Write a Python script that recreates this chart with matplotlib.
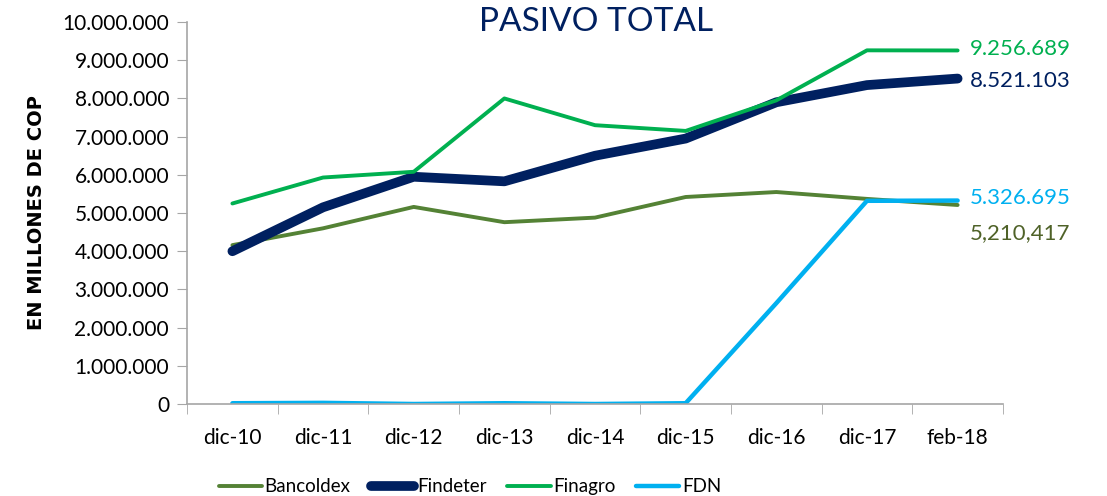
import numpy as np
import matplotlib
matplotlib.use("Agg")
import matplotlib.pyplot as plt
from matplotlib.ticker import FuncFormatter, FixedLocator

plt.rcParams["font.family"] = ["Lato", "DejaVu Sans"]

categories = ["dic-10", "dic-11", "dic-12", "dic-13", "dic-14",
              "dic-15", "dic-16", "dic-17", "feb-18"]
bancoldex = [4160000, 4600000, 5160000, 4760000, 4880000,
             5420000, 5550000, 5370000, 5210417]
findeter = [4000000, 5150000, 5950000, 5830000, 6500000,
            6950000, 7900000, 8350000, 8521103]
finagro = [5250000, 5930000, 6080000, 8000000, 7300000,
           7150000, 7950000, 9260000, 9256689]
fdn = [20000, 30000, 0, 20000, 0, 20000, 2640000, 5320000, 5326695]

end_labels = ["5,210,417", "8.521.103", "9.256.689", "5.326.695"]

c_banc = "#548235"
c_find = "#002060"
c_fina = "#00B050"
c_fdn = "#00B0F0"

fig = plt.figure(figsize=(11.07, 4.96), dpi=100)
ax = fig.add_axes([0.169, 0.1855, 0.737, 0.770])

x = np.arange(len(categories))
ax.plot(x, bancoldex, color=c_banc, lw=2.8, label="Bancoldex", solid_capstyle="round")
ax.plot(x, findeter, color=c_find, lw=7, label="Findeter", solid_capstyle="round")
ax.plot(x, finagro, color=c_fina, lw=2.8, label="Finagro", solid_capstyle="round")
ax.plot(x, fdn, color=c_fdn, lw=3.2, label="FDN", solid_capstyle="round")

ax.set_xlim(-0.5, len(categories) - 0.5)
ax.set_ylim(0, 10000000)
ax.set_yticks(np.arange(0, 10000001, 1000000))
ax.yaxis.set_major_formatter(FuncFormatter(lambda v, p: f"{int(v):,}".replace(",", ".")))
ax.set_xticks(x)
ax.set_xticklabels(categories)
ax.xaxis.set_minor_locator(FixedLocator(np.arange(-0.5, len(categories), 1.0)))
ax.tick_params(axis="x", which="major", length=0, pad=17, labelsize=15)
ax.tick_params(axis="x", which="minor", length=7, color="#A6A6A6", direction="out")
ax.tick_params(axis="y", length=7, color="#A6A6A6", labelsize=15, pad=6)

for s in ["top", "right"]:
    ax.spines[s].set_visible(False)
for s in ["left", "bottom"]:
    ax.spines[s].set_color("#A6A6A6")
    ax.spines[s].set_linewidth(1.2)

ax.set_ylabel("EN MILLONES DE COP", fontsize=14, fontweight="bold", labelpad=12,
              family=["DejaVu Sans"])
fig.text(0.538, 0.955, "PASIVO TOTAL", color=c_find, fontsize=24,
         ha="center", va="center")

last = len(categories) - 1
ax.annotate(end_labels[2], (last, finagro[-1]), xytext=(9, 1), textcoords="offset points",
            color=c_fina, fontsize=16, va="center", annotation_clip=False)
ax.annotate(end_labels[1], (last, findeter[-1]), xytext=(9, -2), textcoords="offset points",
            color=c_find, fontsize=16, va="center", annotation_clip=False)
ax.annotate(end_labels[3], (last, fdn[-1]), xytext=(9, 2), textcoords="offset points",
            color=c_fdn, fontsize=16, va="center", annotation_clip=False)
ax.annotate(end_labels[0], (last, bancoldex[-1]), xytext=(9, -20), textcoords="offset points",
            color="#4F6228", fontsize=16, va="center", annotation_clip=False)

ax.legend(loc="upper center", bbox_to_anchor=(0.347, -0.15), ncol=4, frameon=False,
          fontsize=13.5, handlelength=2.3, handletextpad=0.15, columnspacing=1.1)

fig.savefig("out.png", dpi=100)
